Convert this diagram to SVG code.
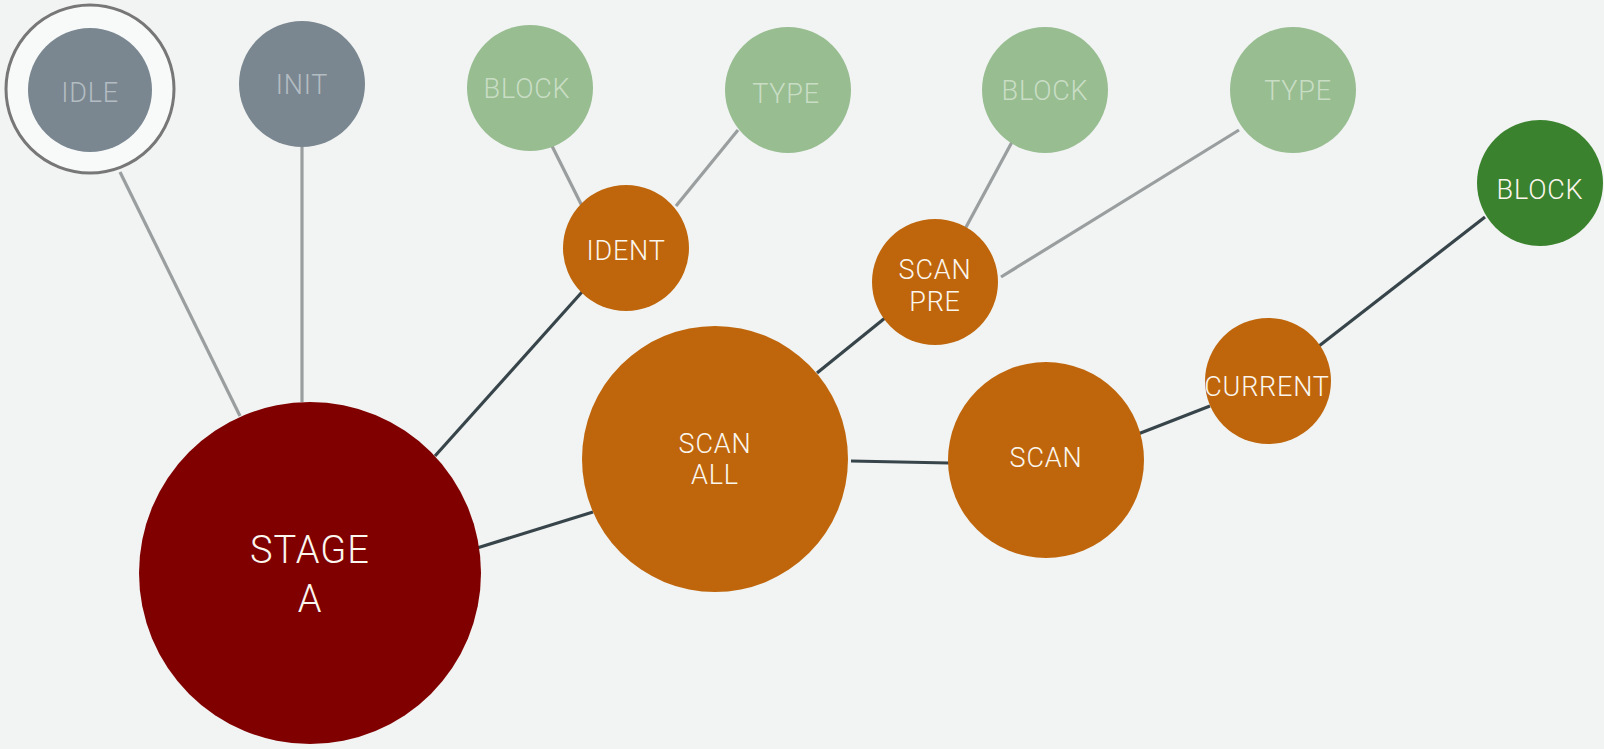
<svg xmlns="http://www.w3.org/2000/svg" width="1604" height="749" viewBox="0 0 1604 749">
<style>
.bg{fill:#f2f4f3}
.lt{stroke:#9a9e9f;stroke-width:3.2;fill:none}
.dk{stroke:#37454b;stroke-width:3.2;fill:none}
.gray{fill:#7a8790}
.lgreen{fill:#98bd91}
.orange{fill:#bf660c}
.red{fill:#800000}
.dgreen{fill:#3b822e}
text{font-family:Roboto,"Liberation Sans",sans-serif;font-size:27px;font-weight:300;text-anchor:middle;letter-spacing:0.8px}
.tg{fill:#b3bcc2}
.tlg{fill:#c9ddc5}
.tw{fill:#fbf6ee}
.big{font-size:38px;letter-spacing:1px}
</style>
<rect class="bg" x="0" y="0" width="1604" height="749"/>
<g id="connectors">
<line class="lt" x1="120" y1="172" x2="240" y2="416"/>
<line class="lt" x1="302" y1="147" x2="302" y2="402"/>
<line class="lt" x1="550" y1="142" x2="582" y2="206"/>
<line class="lt" x1="738" y1="130" x2="676" y2="206"/>
<line class="lt" x1="1012" y1="142" x2="965" y2="229"/>
<line class="lt" x1="1239" y1="130" x2="1001" y2="277"/>
<line class="dk" x1="435" y1="456" x2="582" y2="292"/>
<line class="dk" x1="477" y1="548" x2="593" y2="512"/>
<line class="dk" x1="817" y1="373" x2="885" y2="318"/>
<line class="dk" x1="851" y1="461" x2="949" y2="463"/>
<line class="dk" x1="1138" y1="434" x2="1210" y2="406"/>
<line class="dk" x1="1319" y1="346" x2="1485" y2="217"/>
</g>
<g id="idle">
<circle cx="90" cy="89" r="84" fill="#f8f9f9" stroke="#777" stroke-width="3"/>
<circle class="gray" cx="90" cy="90" r="62"/>
<text class="tg" x="90" y="102">IDLE</text>
</g>
<g id="init">
<circle class="gray" cx="302" cy="84" r="63"/>
<text class="tg" x="302" y="94">INIT</text>
</g>
<g id="block1">
<circle class="lgreen" cx="530" cy="88" r="63"/>
<text class="tlg" x="527" y="98">BLOCK</text>
</g>
<g id="type1">
<circle class="lgreen" cx="788" cy="90" r="63"/>
<text class="tlg" x="786" y="103">TYPE</text>
</g>
<g id="ident">
<circle class="orange" cx="626" cy="248" r="63"/>
<text class="tw" x="626" y="260">IDENT</text>
</g>
<g id="block2">
<circle class="lgreen" cx="1045" cy="90" r="63"/>
<text class="tlg" x="1045" y="100">BLOCK</text>
</g>
<g id="type2">
<circle class="lgreen" cx="1293" cy="90" r="63"/>
<text class="tlg" x="1298" y="100">TYPE</text>
</g>
<g id="block3">
<circle class="dgreen" cx="1540" cy="183" r="63"/>
<text class="tw" x="1540" y="199">BLOCK</text>
</g>
<g id="scanpre">
<circle class="orange" cx="935" cy="282" r="63"/>
<text class="tw" x="935" y="279">SCAN</text>
<text class="tw" x="935" y="311">PRE</text>
</g>
<g id="current">
<circle class="orange" cx="1268" cy="381" r="63"/>
<text class="tw" x="1267" y="396">CURRENT</text>
</g>
<g id="scan">
<circle class="orange" cx="1046" cy="460" r="98"/>
<text class="tw" x="1046" y="467">SCAN</text>
</g>
<g id="scanall">
<circle class="orange" cx="715" cy="459" r="133"/>
<text class="tw" x="715" y="453">SCAN</text>
<text class="tw" x="715" y="484">ALL</text>
</g>
<g id="stagea">
<circle class="red" cx="310" cy="573" r="171"/>
<text class="tw big" x="310" y="563">STAGE</text>
<text class="tw big" x="310" y="612">A</text>
</g>
</svg>
